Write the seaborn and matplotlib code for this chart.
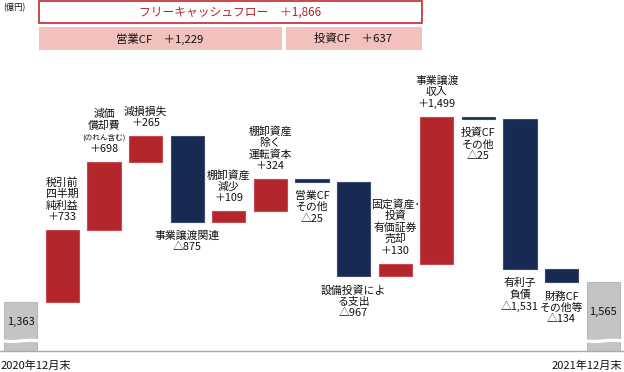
import numpy as np
import seaborn as sns
import matplotlib.pyplot as plt
from matplotlib.patches import Rectangle

# data (億円)
keys = ["start", "pretax", "dep", "impair", "divest", "inv", "wc", "opother",
        "capex", "assetsale", "divestin", "invother", "debt", "finother", "end"]
deltas = [1363, 733, 698, 265, -875, 109, 324, -25, -967, 130, 1499, -25, -1531, -134, 1565]
labels = [
    [],
    ["税引前", "四半期", "純利益", "＋733"],
    ["減価", "償却費", "(のれん含む)", "＋698"],
    ["減損損失", "＋265"],
    ["事業譲渡関連", "△875"],
    ["棚卸資産", "減少", "＋109"],
    ["棚卸資産", "除く", "運転資本", "＋324"],
    ["営業CF", "その他", "△25"],
    ["設備投資によ", "る支出", "△967"],
    ["固定資産･", "投資", "有価証券", "売却", "＋130"],
    ["事業譲渡", "収入", "＋1,499"],
    ["投資CF", "その他", "△25"],
    ["有利子", "負債", "△1,531"],
    ["財務CF", "その他等", "△134"],
    [],
]
total_labels = ["1,363", "1,565"]
period_labels = ["2020年12月末", "2021年12月末"]
fcf_text = "フリーキャッシュフロー　＋1,866"
op_text = "営業CF　＋1,229"
inv_text = "投資CF　＋637"

sns.set_style("white")
plt.rcParams['font.family'] = ['Noto Sans CJK JP', 'DejaVu Sans']

RED = "#b3262b"
NAVY = "#172a52"
GRAY = "#c4c4c4"
TXT = "#111111"

y_min, y_max = 863, 4445

# waterfall bottoms / heights
bottoms, heights, colors = [], [], []
run = 0
for i, d in enumerate(deltas):
    if i == 0 or i == len(deltas) - 1:
        bottoms.append(y_min)
        heights.append(d - y_min)
        colors.append(GRAY)
        run = d
    else:
        lo = min(run, run + d)
        bottoms.append(lo)
        heights.append(abs(d))
        colors.append(RED if d > 0 else NAVY)
        run += d

fig = plt.figure(figsize=(6.24, 3.72), dpi=100)
ax = fig.add_axes([0, 21 / 372, 1, 351 / 372])

# single call (no hue) so the bottom array lines up with the bars
sns.barplot(x=keys, y=heights, order=keys, bottom=bottoms, width=0.8,
            color=GRAY, ax=ax, saturation=1, errorbar=None)

edge_map = {RED: "#c94a4e", NAVY: "#3b4a6c", GRAY: "#b8b8b8"}
for p, c in zip(ax.patches, colors):
    p.set_facecolor(c)
    p.set_edgecolor(edge_map[c])
    p.set_linewidth(0.8)

ax.set_xlim(-0.5, len(keys) - 0.5)
ax.set_ylim(y_min, y_max)
ax.set_xticks([])
ax.set_yticks([])
ax.set_xlabel("")
ax.set_ylabel("")
for s in ["top", "left", "right"]:
    ax.spines[s].set_visible(False)
ax.spines["bottom"].set_color("#aaaaaa")
ax.spines["bottom"].set_linewidth(1.0)

# value labels
run = 0
for i, d in enumerate(deltas):
    if i == 0 or i == len(deltas) - 1:
        run = d
        continue
    top = max(run, run + d)
    bot = min(run, run + d)
    lines = labels[i]
    n = len(lines)
    if d > 0:
        for j, t in enumerate(lines):
            off = 13 + (n - 1 - j) * 11.5
            small = t.startswith("(")
            ax.annotate(t, (i, top), xytext=(0, off), textcoords="offset pixels",
                        ha="center", va="center", fontsize=5.5 if small else 7.8,
                        color=TXT)
    else:
        for j, t in enumerate(lines):
            off = -(14 + j * 11.5)
            ax.annotate(t, (i, bot), xytext=(0, off), textcoords="offset pixels",
                        ha="center", va="center", fontsize=7.8, color=TXT)
    run += d

# broken gray bars + their values
brk_lo, brk_hi = 955, 988
for k, i in enumerate([0, len(deltas) - 1]):
    xs = np.linspace(i - 0.45, i + 0.45, 30)
    wave = 6 * np.sin((xs - i) * np.pi / 0.45)
    ax.fill_between(xs, brk_lo + wave, brk_hi + wave, color="white", zorder=5, lw=0)
    ax.text(i, (brk_hi + deltas[i]) / 2 - 15, total_labels[k], ha="center", va="center",
            fontsize=8, color=TXT, zorder=6)

# period labels below axis
fig.text(1 / 624, 1 - 366 / 372, period_labels[0], ha="left", va="center", fontsize=8, color=TXT)
fig.text(622 / 624, 1 - 366 / 372, period_labels[1], ha="right", va="center", fontsize=8, color=TXT)
fig.text(3 / 624, 1 - 8 / 372, "(億円)", ha="left", va="center", fontsize=6, color=TXT)

# top banners (pixel coords)
def box(x0, y0, x1, y1, fc, ec, lw):
    fig.add_artist(Rectangle((x0 / 624, 1 - y1 / 372), (x1 - x0) / 624, (y1 - y0) / 372,
                             transform=fig.transFigure, facecolor=fc, edgecolor=ec, lw=lw))

box(38.5, 1, 421.5, 23, "white", "#c0282d", 1.2)
fig.text(230 / 624, 1 - 12.5 / 372, fcf_text, ha="center", va="center", fontsize=8.5, color="#b3262b")
box(38.5, 27, 281.7, 50, "#f2c0bd", "none", 0)
fig.text(160 / 624, 1 - 38.5 / 372, op_text, ha="center", va="center", fontsize=8.2, color=TXT)
box(285.7, 27, 421.5, 50, "#f2c0bd", "none", 0)
fig.text(353.5 / 624, 1 - 38.5 / 372, inv_text, ha="center", va="center", fontsize=8.2, color=TXT)

fig.savefig("out.png", dpi=100)
